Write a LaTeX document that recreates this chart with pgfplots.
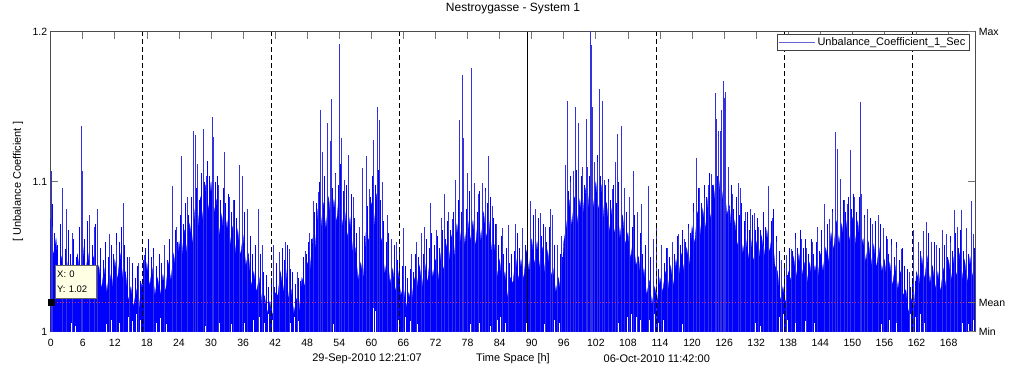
\documentclass[border=0pt]{standalone}
\usepackage{fontspec}
\setmainfont{Liberation Sans}
\usepackage{pgfplots}
\pgfplotsset{compat=1.18}
\definecolor{sigblue}{rgb}{0,0,1}
\definecolor{spikeblue}{RGB}{50,50,225}
\definecolor{legblue}{RGB}{100,100,210}
\definecolor{tipbg}{RGB}{255,255,228}
\definecolor{meanred}{RGB}{220,50,90}
\begin{document}
\begin{tikzpicture}[font=\fontsize{11}{13}\selectfont]
\path[use as bounding box] (0,0) rectangle (1011pt,370pt);
\begin{axis}[
  at={(50.7pt,38.3pt)}, anchor=south west,
  scale only axis, width=924.6pt, height=300pt,
  xmin=0, xmax=173, ymin=1, ymax=1.2,
  clip mode=individual,
  xtick={0,6,...,168}, ytick={1,1.1,1.2},
  /pgf/number format/assume math mode=true,
  tick label style={font=\fontsize{10.5}{12}\selectfont},
  tick align=inside, major tick length=7pt,
  tick style={black!55, line width=0.8pt},
  axis line style={black!70, line width=0.8pt},
  xticklabel style={yshift=-4pt},
  title={Nestroygasse - System 1},
  title style={at={(axis description cs:0.5,1)}, anchor=center, yshift=16.7pt, font=\fontsize{12}{14}\selectfont},
  xlabel={Time Space [h]},
  xlabel style={at={(axis description cs:0.5,0)}, anchor=center, yshift=-26.6pt},
  ylabel={[ Unbalance Coefficient ]},
  ylabel style={at={(axis description cs:0,0.5)}, anchor=center, yshift=32.7pt},
  legend style={at={(rel axis cs:0.9932,0.9923)}, anchor=north east, draw=black!75,
    font=\fontsize{11}{13}\selectfont, inner sep=1.5pt, legend cell align=left},
  legend image code/.code={\draw[#1] (0pt,0pt) -- (36pt,0pt);},
]
% body of the signal
\addplot[fill=sigblue, draw=sigblue, line width=0.3pt, forget plot] coordinates {
(0,1.075)(0.5,1.050)(1,1.062)(1.5,1.035)(2,1.050)(2.5,1.032)(3,1.048)(3.5,1.030)(4,1.045)(4.5,1.028)
(5,1.052)(5.5,1.036)(6,1.058)(6.5,1.038)(7,1.052)(7.5,1.034)(8,1.050)(8.5,1.036)(9,1.044)(9.5,1.028)
(10,1.042)(10.5,1.026)(11,1.040)(11.5,1.030)(12,1.048)(12.5,1.034)(13,1.052)(13.5,1.036)(14,1.040)(14.5,1.020)
(15,1.030)(15.5,1.016)(16,1.028)(16.5,1.014)(17,1.032)(17.5,1.030)(18,1.046)(18.5,1.030)(19,1.042)(19.5,1.024)
(20,1.036)(20.5,1.024)(21,1.038)(21.5,1.026)(22,1.046)(22.5,1.034)(23,1.052)(23.5,1.038)(24,1.060)(24.5,1.048)
(25,1.068)(25.5,1.052)(26,1.072)(26.5,1.058)(27,1.082)(27.5,1.066)(28,1.090)(28.5,1.074)(29,1.098)(29.5,1.080)
(30,1.100)(30.5,1.078)(31,1.088)(31.5,1.064)(32,1.078)(32.5,1.060)(33,1.074)(33.5,1.056)(34,1.070)(34.5,1.052)
(35,1.068)(35.5,1.050)(36,1.064)(36.5,1.044)(37,1.052)(37.5,1.030)(38,1.040)(38.5,1.026)(39,1.036)(39.5,1.020)
(40,1.024)(40.5,1.012)(41,1.020)(41.5,1.010)(42,1.026)(42.5,1.024)(43,1.040)(43.5,1.026)(44,1.042)(44.5,1.022)
(45,1.028)(45.5,1.012)(46,1.022)(46.5,1.014)(47,1.036)(47.5,1.030)(48,1.046)(48.5,1.040)(49,1.062)(49.5,1.056)
(50,1.082)(50.5,1.066)(51,1.086)(51.5,1.068)(52,1.090)(52.5,1.070)(53,1.088)(53.5,1.072)(54,1.094)(54.5,1.070)
(55,1.082)(55.5,1.062)(56,1.076)(56.5,1.054)(57,1.056)(57.5,1.034)(58,1.046)(58.5,1.036)(59,1.066)(59.5,1.060)
(60,1.086)(60.5,1.070)(61,1.092)(61.5,1.066)(62,1.060)(62.5,1.038)(63,1.050)(63.5,1.032)(64,1.042)(64.5,1.026)
(65,1.040)(65.5,1.024)(66,1.030)(66.5,1.016)(67,1.026)(67.5,1.018)(68,1.036)(68.5,1.028)(69,1.044)(69.5,1.030)
(70,1.046)(70.5,1.032)(71,1.050)(71.5,1.036)(72,1.048)(72.5,1.034)(73,1.052)(73.5,1.040)(74,1.058)(74.5,1.046)
(75,1.064)(75.5,1.050)(76,1.072)(76.5,1.056)(77,1.074)(77.5,1.058)(78,1.076)(78.5,1.060)(79,1.074)(79.5,1.056)
(80,1.078)(80.5,1.060)(81,1.080)(81.5,1.062)(82,1.074)(82.5,1.054)(83,1.058)(83.5,1.036)(84,1.048)(84.5,1.030)
(85,1.040)(85.5,1.022)(86,1.036)(86.5,1.032)(87,1.050)(87.5,1.034)(88,1.048)(88.5,1.034)(89,1.054)(89.5,1.040)
(90,1.062)(90.5,1.044)(91,1.060)(91.5,1.042)(92,1.056)(92.5,1.038)(93,1.054)(93.5,1.036)(94,1.042)(94.5,1.026)
(95,1.036)(95.5,1.024)(96,1.060)(96.5,1.070)(97,1.088)(97.5,1.070)(98,1.090)(98.5,1.072)(99,1.088)(99.5,1.074)
(100,1.096)(100.5,1.080)(101,1.104)(101.5,1.082)(102,1.100)(102.5,1.080)(103,1.098)(103.5,1.076)(104,1.086)(104.5,1.066)
(105,1.082)(105.5,1.064)(106,1.084)(106.5,1.062)(107,1.078)(107.5,1.058)(108,1.066)(108.5,1.048)(109,1.062)(109.5,1.044)
(110,1.050)(110.5,1.030)(111,1.042)(111.5,1.024)(112,1.034)(112.5,1.018)(113,1.030)(113.5,1.020)(114,1.036)(114.5,1.026)
(115,1.040)(115.5,1.028)(116,1.044)(116.5,1.030)(117,1.048)(117.5,1.036)(118,1.052)(118.5,1.040)(119,1.056)(119.5,1.044)
(120,1.070)(120.5,1.058)(121,1.080)(121.5,1.064)(122,1.082)(122.5,1.068)(123,1.090)(123.5,1.074)(124,1.098)(124.5,1.080)
(125,1.102)(125.5,1.084)(126,1.100)(126.5,1.078)(127,1.084)(127.5,1.060)(128,1.074)(128.5,1.056)(129,1.070)(129.5,1.052)
(130,1.064)(130.5,1.048)(131,1.062)(131.5,1.046)(132,1.060)(132.5,1.048)(133,1.064)(133.5,1.050)(134,1.068)(134.5,1.052)
(135,1.066)(135.5,1.044)(136,1.040)(136.5,1.020)(137,1.030)(137.5,1.018)(138,1.040)(138.5,1.034)(139,1.050)(139.5,1.036)
(140,1.052)(140.5,1.036)(141,1.046)(141.5,1.032)(142,1.046)(142.5,1.032)(143,1.044)(143.5,1.034)(144,1.052)(144.5,1.040)
(145,1.056)(145.5,1.046)(146,1.066)(146.5,1.054)(147,1.074)(147.5,1.058)(148,1.072)(148.5,1.058)(149,1.074)(149.5,1.060)
(150,1.076)(150.5,1.058)(151,1.074)(151.5,1.054)(152,1.062)(152.5,1.046)(153,1.060)(153.5,1.044)(154,1.058)(154.5,1.042)
(155,1.056)(155.5,1.040)(156,1.048)(156.5,1.032)(157,1.046)(157.5,1.030)(158,1.044)(158.5,1.028)(159,1.040)(159.5,1.024)
(160,1.028)(160.5,1.012)(161,1.022)(161.5,1.014)(162,1.040)(162.5,1.032)(163,1.050)(163.5,1.034)(164,1.050)(164.5,1.032)
(165,1.044)(165.5,1.028)(166,1.040)(166.5,1.026)(167,1.042)(167.5,1.030)(168,1.048)(168.5,1.034)(169,1.050)(169.5,1.036)
(170,1.052)(170.5,1.034)(171,1.048)(171.5,1.032)(172,1.050)(172.5,1.036)(173,1.048)
} \closedcycle;
% medium spikes
\addplot[ycomb, sigblue, line width=0.5pt, forget plot] coordinates {
(0.25,1.085)(0.75,1.066)(1.25,1.058)(1.75,1.072)(2.25,1.060)(2.75,1.055)(3.25,1.068)(3.75,1.052)(4.25,1.062)(4.75,1.050)
(5.25,1.070)(5.75,1.078)(6.25,1.062)(6.75,1.074)(7.25,1.064)(7.75,1.058)(8.25,1.072)(8.75,1.060)(9.25,1.056)(9.75,1.048)
(10.25,1.060)(10.75,1.050)(11.25,1.058)(11.75,1.052)(12.25,1.066)(12.75,1.060)(13.25,1.070)(13.75,1.058)(14.25,1.050)(14.75,1.040)
(15.25,1.046)(15.75,1.036)(16.25,1.044)(16.75,1.034)(17.25,1.048)(17.75,1.056)(18.25,1.062)(18.75,1.050)(19.25,1.056)(19.75,1.044)
(20.25,1.052)(20.75,1.046)(21.25,1.054)(21.75,1.048)(22.25,1.062)(22.75,1.056)(23.25,1.068)(23.75,1.060)(24.25,1.078)(24.75,1.072)
(25.25,1.086)(25.75,1.078)(26.25,1.090)(26.75,1.084)(27.25,1.096)(27.75,1.088)(28.25,1.106)(28.75,1.100)(29.25,1.114)(29.75,1.104)
(30.25,1.118)(30.75,1.100)(31.25,1.104)(31.75,1.088)(32.25,1.096)(32.75,1.086)(33.25,1.092)(33.75,1.080)(34.25,1.088)(34.75,1.076)
(35.25,1.086)(35.75,1.074)(36.25,1.080)(36.75,1.066)(37.25,1.064)(37.75,1.052)(38.25,1.058)(38.75,1.046)(39.25,1.052)(39.75,1.040)
(40.25,1.038)(40.75,1.030)(41.25,1.036)(41.75,1.030)(42.25,1.046)(42.75,1.050)(43.25,1.056)(43.75,1.048)(44.25,1.058)(44.75,1.042)
(45.25,1.040)(45.75,1.032)(46.25,1.036)(46.75,1.034)(47.25,1.050)(47.75,1.052)(48.25,1.060)(48.75,1.062)(49.25,1.080)(49.75,1.086)
(50.25,1.100)(50.75,1.092)(51.25,1.104)(51.75,1.094)(52.25,1.108)(52.75,1.096)(53.25,1.106)(53.75,1.098)(54.25,1.112)(54.75,1.094)
(55.25,1.098)(55.75,1.088)(56.25,1.092)(56.75,1.076)(57.25,1.066)(57.75,1.056)(58.25,1.062)(58.75,1.064)(59.25,1.084)(59.75,1.090)
(60.25,1.104)(60.75,1.098)(61.25,1.108)(61.75,1.088)(62.25,1.074)(62.75,1.060)(63.25,1.066)(63.75,1.054)(64.25,1.058)(64.75,1.048)
(65.25,1.056)(65.75,1.044)(66.25,1.044)(66.75,1.036)(67.25,1.042)(67.75,1.040)(68.25,1.052)(68.75,1.050)(69.25,1.060)(69.75,1.052)
(70.25,1.062)(70.75,1.056)(71.25,1.066)(71.75,1.058)(72.25,1.064)(72.75,1.056)(73.25,1.068)(73.75,1.062)(74.25,1.074)(74.75,1.068)
(75.25,1.080)(75.75,1.074)(76.25,1.088)(76.75,1.080)(77.25,1.092)(77.75,1.082)(78.25,1.094)(78.75,1.084)(79.25,1.090)(79.75,1.080)
(80.25,1.094)(80.75,1.084)(81.25,1.096)(81.75,1.086)(82.25,1.090)(82.75,1.076)(83.25,1.072)(83.75,1.058)(84.25,1.064)(84.75,1.052)
(85.25,1.056)(85.75,1.046)(86.25,1.052)(86.75,1.054)(87.25,1.066)(87.75,1.056)(88.25,1.064)(88.75,1.058)(89.25,1.070)(89.75,1.064)
(90.25,1.078)(90.75,1.068)(91.25,1.076)(91.75,1.064)(92.25,1.072)(92.75,1.060)(93.25,1.070)(93.75,1.058)(94.25,1.058)(94.75,1.048)
(95.25,1.052)(95.75,1.050)(96.25,1.082)(96.75,1.094)(97.25,1.104)(97.75,1.094)(98.25,1.108)(98.75,1.096)(99.25,1.104)(99.75,1.098)
(100.25,1.114)(100.75,1.104)(101.25,1.122)(101.75,1.106)(102.25,1.118)(102.75,1.104)(103.25,1.114)(103.75,1.098)(104.25,1.102)(104.75,1.088)
(105.25,1.098)(105.75,1.086)(106.25,1.100)(106.75,1.084)(107.25,1.094)(107.75,1.080)(108.25,1.082)(108.75,1.070)(109.25,1.078)(109.75,1.064)
(110.25,1.066)(110.75,1.052)(111.25,1.058)(111.75,1.046)(112.25,1.050)(112.75,1.040)(113.25,1.046)(113.75,1.042)(114.25,1.052)(114.75,1.046)
(115.25,1.056)(115.75,1.050)(116.25,1.060)(116.75,1.052)(117.25,1.064)(117.75,1.058)(118.25,1.068)(118.75,1.060)(119.25,1.072)(119.75,1.066)
(120.25,1.086)(120.75,1.080)(121.25,1.096)(121.75,1.086)(122.25,1.098)(122.75,1.090)(123.25,1.106)(123.75,1.098)(124.25,1.114)(124.75,1.104)
(125.25,1.120)(125.75,1.106)(126.25,1.116)(126.75,1.100)(127.25,1.098)(127.75,1.082)(128.25,1.090)(128.75,1.078)(129.25,1.086)(129.75,1.074)
(130.25,1.080)(130.75,1.068)(131.25,1.078)(131.75,1.068)(132.25,1.076)(132.75,1.068)(133.25,1.080)(133.75,1.070)(134.25,1.084)(134.75,1.074)
(135.25,1.082)(135.75,1.064)(136.25,1.054)(136.75,1.040)(137.25,1.046)(137.75,1.038)(138.25,1.056)(138.75,1.054)(139.25,1.066)(139.75,1.056)
(140.25,1.068)(140.75,1.056)(141.25,1.062)(141.75,1.052)(142.25,1.062)(142.75,1.052)(143.25,1.060)(143.75,1.054)(144.25,1.068)(144.75,1.060)
(145.25,1.072)(145.75,1.066)(146.25,1.082)(146.75,1.076)(147.25,1.090)(147.75,1.080)(148.25,1.088)(148.75,1.080)(149.25,1.090)(149.75,1.082)
(150.25,1.092)(150.75,1.080)(151.25,1.090)(151.75,1.074)(152.25,1.078)(152.75,1.066)(153.25,1.076)(153.75,1.064)(154.25,1.074)(154.75,1.062)
(155.25,1.072)(155.75,1.060)(156.25,1.064)(156.75,1.052)(157.25,1.062)(157.75,1.050)(158.25,1.060)(158.75,1.048)(159.25,1.056)(159.75,1.044)
(160.25,1.042)(160.75,1.030)(161.25,1.036)(161.75,1.034)(162.25,1.056)(162.75,1.054)(163.25,1.066)(163.75,1.054)(164.25,1.066)(164.75,1.052)
(165.25,1.060)(165.75,1.048)(166.25,1.056)(166.75,1.046)(167.25,1.058)(167.75,1.050)(168.25,1.064)(168.75,1.054)(169.25,1.066)(169.75,1.056)
(170.25,1.068)(170.75,1.054)(171.25,1.064)(171.75,1.052)(172.25,1.066)(172.75,1.056)
};
% tall spikes
\addplot[ycomb, spikeblue, line width=0.7pt, forget plot] coordinates {
(0.1,1.107)(0.4,1.070)(2.1,1.096)(3.0,1.082)(4.0,1.066)(5.7,1.137)(5.9,1.107)(7.3,1.078)(8.1,1.070)(8.8,1.082)
(10.9,1.065)(12.2,1.058)(13.5,1.086)(14.8,1.050)(16.4,1.046)(17.6,1.051)(19.2,1.049)(21.3,1.058)(22.7,1.097)(23.6,1.070)
(24.5,1.117)(25.6,1.090)(26.7,1.134)(27.0,1.131)(27.5,1.112)(28.6,1.135)(29.2,1.104)(30.3,1.143)(30.5,1.130)(31.4,1.098)
(32.5,1.120)(33.4,1.090)(34.2,1.088)(35.3,1.111)(35.9,1.104)(36.8,1.082)(38.8,1.082)(39.6,1.058)(41.6,1.058)(42.8,1.053)
(43.9,1.060)(44.6,1.055)(46.2,1.040)(47.6,1.054)(48.4,1.066)(49.2,1.087)(50.1,1.093)(50.4,1.148)(50.8,1.120)(51.8,1.139)
(52.4,1.127)(52.6,1.155)(53.2,1.105)(54.0,1.192)(54.3,1.129)(55.0,1.101)(55.7,1.118)(56.6,1.090)(57.8,1.070)(58.4,1.109)
(59.0,1.117)(59.6,1.095)(60.3,1.128)(61.2,1.150)(61.4,1.141)(62.0,1.100)(62.9,1.078)(63.8,1.062)(64.7,1.060)(66.0,1.069)
(67.4,1.052)(68.5,1.060)(69.3,1.066)(70.0,1.070)(71.0,1.086)(72.1,1.068)(73.0,1.076)(73.6,1.092)(74.4,1.080)(75.2,1.075)
(75.7,1.101)(76.5,1.141)(77.0,1.171)(77.2,1.129)(78.0,1.106)(78.7,1.176)(79.3,1.099)(80.0,1.092)(80.7,1.099)(81.3,1.094)
(81.9,1.117)(82.6,1.084)(83.4,1.072)(84.5,1.069)(85.7,1.071)(86.9,1.072)(88.2,1.069)(89.7,1.087)(90.7,1.082)(91.7,1.079)
(92.6,1.070)(93.4,1.082)(93.8,1.078)(94.8,1.058)(95.6,1.064)(96.3,1.111)(96.6,1.154)(97.2,1.100)(97.7,1.107)(98.2,1.150)
(98.8,1.139)(99.4,1.110)(100.2,1.142)(100.5,1.110)(101.0,1.203)(101.2,1.191)(101.4,1.150)(101.7,1.113)(102.3,1.113)(102.6,1.162)
(103.3,1.154)(103.6,1.101)(104.3,1.100)(105.0,1.095)(105.6,1.113)(106.1,1.132)(106.7,1.137)(107.4,1.096)(108.2,1.090)(109.1,1.107)
(109.8,1.080)(110.6,1.085)(111.9,1.097)(112.7,1.062)(113.4,1.069)(114.2,1.058)(115.4,1.056)(116.4,1.060)(117.5,1.065)(118.5,1.062)
(119.3,1.069)(120.2,1.080)(120.8,1.116)(121.3,1.096)(122.3,1.089)(123.0,1.098)(123.6,1.105)(124.3,1.159)(124.6,1.142)(124.9,1.134)
(125.3,1.134)(125.5,1.148)(125.8,1.167)(126.0,1.156)(126.3,1.160)(126.8,1.110)(127.6,1.092)(128.6,1.099)(129.1,1.096)(130.0,1.080)
(130.9,1.082)(131.6,1.079)(132.4,1.070)(133.3,1.057)(134.3,1.097)(135.1,1.076)(135.8,1.060)(136.8,1.048)(137.6,1.051)(138.5,1.055)
(139.4,1.062)(140.4,1.062)(141.4,1.056)(142.5,1.060)(143.5,1.070)(144.8,1.085)(145.6,1.075)(146.3,1.080)(146.9,1.133)(147.1,1.122)
(147.8,1.102)(148.5,1.088)(149.1,1.085)(149.7,1.121)(150.4,1.090)(151.4,1.153)(151.7,1.092)(152.3,1.076)(152.8,1.082)(153.8,1.072)
(154.8,1.078)(155.8,1.069)(156.5,1.062)(157.2,1.058)(158.2,1.056)(159.2,1.055)(160.6,1.040)(161.4,1.068)(162.4,1.060)(163.2,1.067)
(163.9,1.073)(164.8,1.060)(165.8,1.058)(166.8,1.068)(167.6,1.065)(168.3,1.060)(169.0,1.081)(169.7,1.070)(170.4,1.081)(171.3,1.069)
(172.2,1.087)(172.7,1.065)
};
% gaps near the bottom
\addplot[ycomb, white, line width=0.8pt, forget plot] coordinates {
(3.9,1.006)(4.6,1.004)(10.5,1.005)(11.4,1.008)(12.8,1.006)(14.6,1.010)(15.3,1.007)(16.1,1.012)(16.8,1.008)(19.8,1.006)
(20.6,1.009)(21.7,1.005)(28.9,1.004)(31.6,1.006)(33.8,1.005)(36.2,1.006)(37.9,1.008)(39.1,1.010)(39.9,1.006)(40.7,1.012)
(41.5,1.008)(44.9,1.006)(45.6,1.010)(46.4,1.007)(52.9,1.005)(60.3,1.016)(60.7,1.014)(65.0,1.008)(66.4,1.010)(67.3,1.007)
(68.6,1.005)(78.6,1.005)(80.3,1.006)(82.3,1.004)(83.6,1.008)(84.2,1.010)(85.0,1.006)(89.0,1.006)(92.4,1.005)(94.3,1.008)
(95.2,1.006)(106.2,1.006)(107.9,1.010)(108.7,1.012)(109.6,1.010)(110.4,1.008)(112.1,1.008)(112.9,1.012)(113.7,1.006)(114.6,1.008)
(118.2,1.005)(131.8,1.006)(132.7,1.004)(136.3,1.010)(137.0,1.012)(137.8,1.008)(139.3,1.006)(141.2,1.007)(142.9,1.006)(155.4,1.005)
(156.9,1.008)(158.3,1.006)(160.9,1.012)(161.8,1.010)(162.7,1.012)(163.5,1.006)(170.6,1.006)(171.8,1.005)(172.6,1.008)
};
% mean line
\addplot[meanred, dash pattern=on 0.9pt off 2.1pt, line width=0.7pt, forget plot] coordinates {(0,1.0193)(173,1.0193)};
% day lines
\addplot[black, dash pattern=on 5pt off 3pt, line width=0.7pt, forget plot] coordinates {(17.2,1)(17.2,1.2)};
\addplot[black, dash pattern=on 5pt off 3pt, line width=0.7pt, forget plot] coordinates {(41.2,1)(41.2,1.2)};
\addplot[black, dash pattern=on 5pt off 3pt, line width=0.7pt, forget plot] coordinates {(65.2,1)(65.2,1.2)};
\addplot[black, line width=0.7pt, forget plot] coordinates {(89.2,1)(89.2,1.2)};
\addplot[black, dash pattern=on 5pt off 3pt, line width=0.7pt, forget plot] coordinates {(113.3,1)(113.3,1.2)};
\addplot[black, dash pattern=on 5pt off 3pt, line width=0.7pt, forget plot] coordinates {(137.3,1)(137.3,1.2)};
\addplot[black, dash pattern=on 5pt off 3pt, line width=0.7pt, forget plot] coordinates {(161.2,1)(161.2,1.2)};
% data tip marker
\addplot[only marks, mark=square*, mark size=3pt, black, forget plot] coordinates {(0,1.02)};
\addlegendimage{legblue, line width=0.8pt}
\addlegendentry{Unbalance\_Coefficient\_1\_Sec}
\node[draw=black!60, fill=tipbg, anchor=south west, inner sep=2pt, align=left,
      minimum width=40.7pt, minimum height=33pt, text width=37pt,
      font=\fontsize{9.5}{15}\selectfont] at (axis cs:0.8,1.0225) {X: 0\\Y: 1.02};
\node[anchor=center, yshift=-26.6pt] at (axis cs:59.2,1) {29-Sep-2010 12:21:07};
\node[anchor=center, yshift=-26.6pt] at (axis cs:113.4,1) {06-Oct-2010 11:42:00};
\end{axis}
\begin{axis}[
  at={(50.7pt,38.3pt)}, anchor=south west,
  scale only axis, width=924.6pt, height=300pt,
  xmin=0, xmax=173, ymin=1, ymax=1.2,
  axis x line=none, axis y line*=right,
  ytick={1,1.0193,1.2}, yticklabels={Min,Mean,Max},
  tick label style={font=\fontsize{10.5}{12}\selectfont},
  tick align=inside, major tick length=7pt,
  tick style={black!55, line width=0.8pt},
  axis line style={black!70, line width=0.8pt},
]
\addplot[draw=none] coordinates {(0,1)};
\end{axis}
\end{tikzpicture}
\end{document}
